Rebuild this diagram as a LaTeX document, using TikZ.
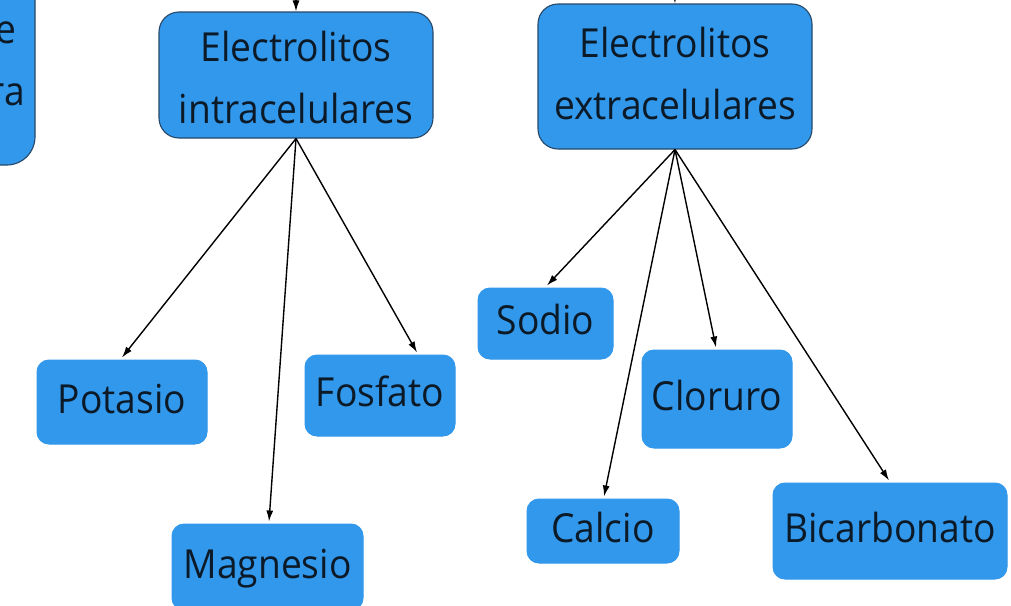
\documentclass[tikz,border=0pt]{standalone}
\usepackage{fontspec}
\setmainfont{Open Sans}[FakeStretch=0.93]
\usetikzlibrary{arrows.meta}
\definecolor{boxblue}{RGB}{50,152,236}
\definecolor{boxedge}{RGB}{38,72,104}
\definecolor{inktext}{RGB}{12,26,40}
\tikzset{
  leaf/.style={rounded corners=12pt, fill=boxblue, draw=boxblue, line width=1pt,
    inner sep=0pt, text height=30pt, text depth=8pt, text=inktext,
    font=\fontsize{40}{62}\selectfont},
  topbox/.style={rounded corners=20pt, fill=boxblue, draw=boxedge, line width=1.1pt,
    inner sep=0pt, text=inktext, font=\fontsize{40}{62}\selectfont},
  arr/.style={draw=black, line width=1.4pt, -{Latex[length=11pt,width=7pt]}},
  plain/.style={inner sep=0pt, text=inktext, font=\fontsize{40}{62}\selectfont}
}
\begin{document}
\begin{tikzpicture}[x=1pt,y=-1pt]
\useasboundingbox (0,0) rectangle (1011,605);
\fill[white] (0,0) rectangle (1011,605);
% partial box at left edge
\node[topbox, minimum width=100pt, minimum height=200pt, rounded corners=28pt] (leftbox) at (-15,65) {};
\node[plain, anchor=base east] (lefte) at (17,43) {e};
\node[plain, anchor=base east] (leftra) at (25,105) {ra};
% main boxes
\node[topbox, minimum width=274pt, minimum height=126pt] (intra) at (296,75)
  {\raisebox{-5pt}[\height][\depth]{\begin{tabular}{@{}c@{}}Electrolitos\\intracelulares\end{tabular}}};
\node[topbox, minimum width=274pt, minimum height=145pt] (extra) at (675,76.5)
  {\begin{tabular}{@{}c@{}}Electrolitos\\extracelulares\end{tabular}};
% leaves
\node[leaf, minimum width=170pt, minimum height=84pt] (potasio) at (122,402) {Potasio};
\node[leaf, minimum width=191pt, minimum height=86pt] (magnesio) at (267.5,567) {Magnesio};
\node[leaf, minimum width=150pt, minimum height=81pt] (fosfato) at (380,395.5) {Fosfato};
\node[leaf, minimum width=135pt, minimum height=71pt] (sodio) at (545.5,323.5) {Sodio};
\node[leaf, minimum width=150pt, minimum height=98pt] (cloruro) at (717,399) {Cloruro};
\node[leaf, minimum width=152pt, minimum height=64pt] (calcio) at (603,531) {Calcio};
\node[leaf, minimum width=234pt, minimum height=96pt] (bicarbonato) at (890,531) {Bicarbonato};
% incoming arrows from above
\coordinate (topIntra) at (296,-20);
\coordinate (topExtra) at (674,-30);
\draw[arr] (topIntra) -- (intra.north);
\draw[arr] (topExtra) -- (extra.north);
% connectors
\draw[arr] (intra.south) -- ([yshift=2pt]potasio.north);
\draw[arr] (intra.south) -- ([xshift=1.5pt,yshift=2pt]magnesio.north);
\draw[arr] (intra.south) -- ([xshift=37pt,yshift=2pt]fosfato.north);
\draw[arr] (extra.south) -- ([xshift=1.5pt,yshift=2pt]sodio.north);
\draw[arr] (extra.south) -- ([xshift=-1pt,yshift=2pt]cloruro.north);
\draw[arr] (extra.south) -- ([xshift=1pt,yshift=2pt]calcio.north);
\draw[arr] (extra.south) -- ([xshift=-1pt,yshift=2pt]bicarbonato.north);
\end{tikzpicture}
\end{document}
